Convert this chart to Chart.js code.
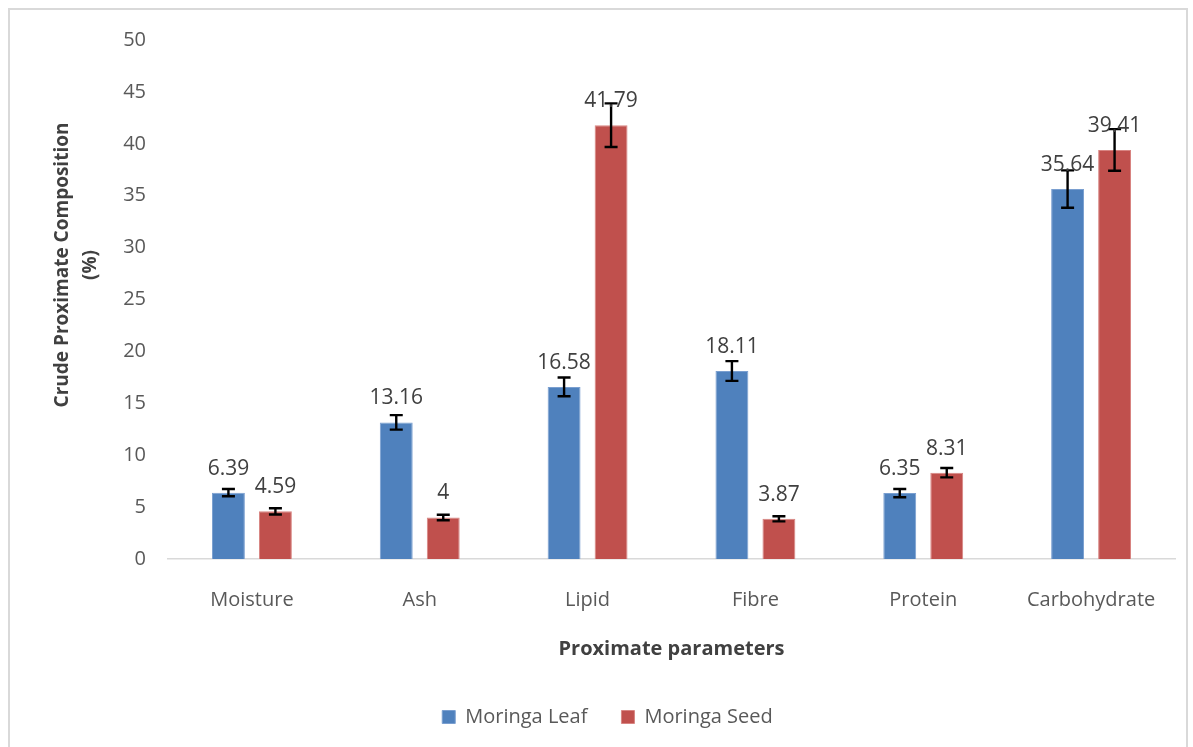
<!DOCTYPE html>
<html>
<head>
<meta charset="utf-8">
<script src="https://cdn.jsdelivr.net/npm/chart.js@4"></script>
<style>
  html, body { margin: 0; padding: 0; background: #ffffff; }
  #box { position: relative; width: 1193px; height: 747px; }
</style>
</head>
<body>
<div id="box"><canvas id="chart" width="1193" height="747"></canvas></div>
<script>
// data
const categories = ["Moisture", "Ash", "Lipid", "Fibre", "Protein", "Carbohydrate"];
const leafValues = [6.39, 13.16, 16.58, 18.11, 6.35, 35.64];
const seedValues = [4.59, 4, 41.79, 3.87, 8.31, 39.41];
const leafErrors = [0.35, 0.7, 0.9, 0.95, 0.4, 1.8];
const seedErrors = [0.3, 0.27, 2.1, 0.25, 0.45, 2.0];
const yTicks = [0, 5, 10, 15, 20, 25, 30, 35, 40, 45, 50];
const yTitle = ["Crude Proximate Composition", "(%)"];

const FONT = "'Open Sans', sans-serif";
const TEXT = "#595959";

// frame round the whole chart + y title (Excel centres it off the plot middle)
const framePlugin = {
  id: "frame",
  afterLayout(chart) {
    // legend sits centred under the plot area, not the whole canvas
    if (chart.legend) chart.legend.left += 32;
  },
  beforeDraw(chart) {
    const ctx = chart.ctx;
    ctx.save();
    ctx.strokeStyle = "#d9d9d9";
    ctx.lineWidth = 2;
    ctx.strokeRect(9, 9, 1178, 760);
    ctx.restore();
  },
  afterDraw(chart) {
    const ctx = chart.ctx;
    ctx.save();
    ctx.translate(77, 265);
    ctx.rotate(-Math.PI / 2);
    ctx.fillStyle = "#404040";
    ctx.font = "bold 19px " + FONT;
    ctx.textAlign = "center";
    ctx.textBaseline = "middle";
    ctx.fillText(yTitle[0], 0, -14);
    ctx.fillText(yTitle[1], 0, 14);
    ctx.restore();
  },
};

// error bars with caps, then value labels above the bars
const errorBarPlugin = {
  id: "errorBars",
  afterDatasetsDraw(chart) {
    const ctx = chart.ctx;
    const y = chart.scales.y;
    const errs = [leafErrors, seedErrors];
    ctx.save();
    chart.data.datasets.forEach((ds, di) => {
      const meta = chart.getDatasetMeta(di);
      meta.data.forEach((bar, i) => {
        const v = ds.data[i];
        const e = errs[di][i];
        const top = y.getPixelForValue(v + e);
        const bot = y.getPixelForValue(v - e);
        ctx.strokeStyle = "#000000";
        ctx.lineWidth = 2.4;
        ctx.beginPath();
        ctx.moveTo(bar.x, top);
        ctx.lineTo(bar.x, bot);
        ctx.moveTo(bar.x - 6.5, top);
        ctx.lineTo(bar.x + 6.5, top);
        ctx.moveTo(bar.x - 6.5, bot);
        ctx.lineTo(bar.x + 6.5, bot);
        ctx.stroke();
      });
    });
    chart.data.datasets.forEach((ds, di) => {
      const meta = chart.getDatasetMeta(di);
      meta.data.forEach((bar, i) => {
        ctx.fillStyle = "#404040";
        ctx.font = "21px " + FONT;
        ctx.textAlign = "center";
        ctx.textBaseline = "alphabetic";
        ctx.fillText(String(ds.data[i]), bar.x, bar.y - 18);
      });
    });
    ctx.restore();
  },
};

new Chart(document.getElementById("chart"), {
  type: "bar",
  data: {
    labels: categories,
    datasets: [
      {
        label: "Moringa Leaf",
        data: leafValues,
        backgroundColor: "#4F81BD",
        borderColor: "#7A9FD0",
        borderWidth: 1,
        categoryPercentage: 0.56,
        barPercentage: 0.7,
      },
      {
        label: "Moringa Seed",
        data: seedValues,
        backgroundColor: "#C0504D",
        borderColor: "#D88582",
        borderWidth: 1,
        categoryPercentage: 0.56,
        barPercentage: 0.7,
      },
    ],
  },
  options: {
    responsive: false,
    animation: false,
    layout: { padding: { left: 8, right: 18, top: 40, bottom: 10 } },
    plugins: {
      legend: {
        position: "bottom",
        labels: {
          font: { family: FONT, size: 20 },
          color: TEXT,
          boxWidth: 13,
          boxHeight: 13,
          padding: 34,
        },
      },
      tooltip: { enabled: false },
    },
    scales: {
      x: {
        grid: { display: false, drawTicks: false },
        border: { color: "#d9d9d9", width: 1.5 },
        ticks: { font: { family: FONT, size: 20 }, color: TEXT, padding: 29 },
        title: {
          display: true,
          text: "Proximate parameters",
          font: { family: FONT, size: 20, weight: "bold" },
          color: "#404040",
          padding: { top: 0, bottom: 12 },
        },
        afterFit(scale) { scale.height = 114; },
      },
      y: {
        min: 0,
        max: 50,
        afterBuildTicks(scale) { scale.ticks = yTicks.map((v) => ({ value: v })); },
        grid: { display: false, drawTicks: false },
        border: { display: false },
        ticks: { font: { family: FONT, size: 20 }, color: TEXT, padding: 22 },
        afterFit(scale) { scale.width = 160; },
      },
    },
  },
  plugins: [framePlugin, errorBarPlugin],
});
</script>
</body>
</html>
